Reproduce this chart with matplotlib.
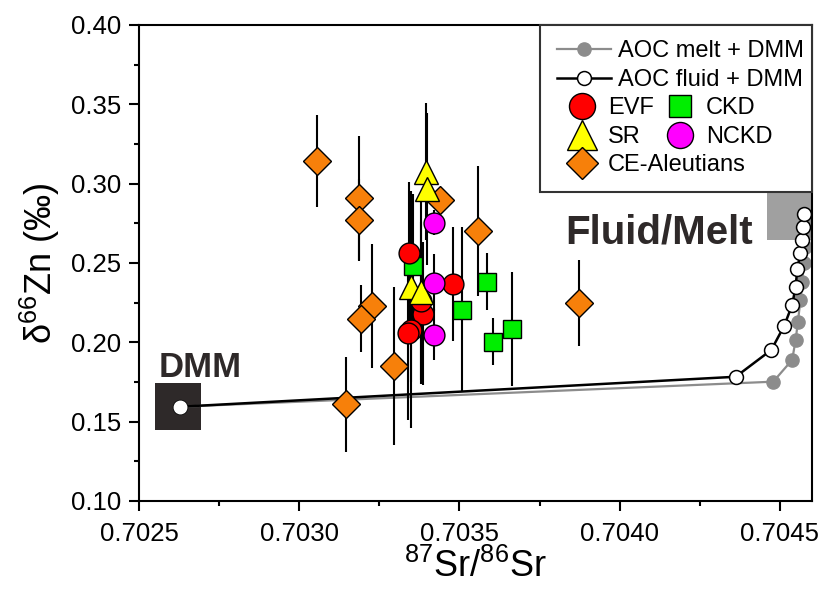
import matplotlib
matplotlib.use('Agg')
import matplotlib.pyplot as plt
from matplotlib.patches import Rectangle

plt.rcParams['font.family'] = ['Liberation Sans', 'DejaVu Sans']
plt.rcParams['mathtext.fontset'] = 'custom'
plt.rcParams['mathtext.rm'] = 'Liberation Sans'
plt.rcParams['mathtext.it'] = 'Liberation Sans:italic'
plt.rcParams['mathtext.bf'] = 'Liberation Sans:bold'

# mixing curves (DMM end-member first)
melt_x = [0.702628, 0.704479, 0.704538, 0.704549, 0.704556, 0.704564, 0.704569, 0.704575, 0.704578, 0.704580, 0.704580]
melt_y = [0.1594, 0.1752, 0.1889, 0.2015, 0.2130, 0.2267, 0.2383, 0.2498, 0.2603, 0.2700, 0.2790]
fluid_x = [0.702628, 0.704362, 0.704473, 0.704513, 0.704538, 0.704549, 0.704554, 0.704564, 0.704569, 0.704572, 0.704575]
fluid_y = [0.1594, 0.1783, 0.1952, 0.2103, 0.2235, 0.2351, 0.2460, 0.2561, 0.2645, 0.2729, 0.2807]

# samples: 87Sr/86Sr, d66Zn, 2SD
evf_x = [0.703342, 0.703479, 0.703386, 0.703350, 0.703338, 0.703381]
evf_y = [0.256, 0.237, 0.218, 0.208, 0.206, 0.226]
evf_e = [0.045, 0.036, 0.045, 0.062, 0.055, 0.050]

sr_x = [0.703394, 0.703400, 0.703350, 0.703381]
sr_y = [0.3076, 0.2965, 0.2351, 0.2315]
sr_e = [0.043, 0.048, 0.060, 0.058]

ckd_x = [0.703355, 0.703586, 0.703508, 0.703604, 0.703663]
ckd_y = [0.2484, 0.2383, 0.2205, 0.2005, 0.2085]
ckd_e = [0.045, 0.018, 0.052, 0.015, 0.036]

nckd_x = [0.703419, 0.703419, 0.703419]
nckd_y = [0.2755, 0.2377, 0.2047]
nckd_e = [0.008, 0.018, 0.016]

ce_x = [0.703055, 0.703185, 0.703188, 0.703228, 0.703194, 0.703297, 0.703145, 0.703438, 0.703558, 0.703874]
ce_y = [0.314, 0.291, 0.277, 0.223, 0.215, 0.185, 0.161, 0.290, 0.270, 0.225]
ce_e = [0.029, 0.039, 0.026, 0.039, 0.021, 0.050, 0.030, 0.005, 0.041, 0.027]

# end-member boxes
dmm_box = (0.70255, 0.1447, 0.000143, 0.0295)
fm_box = (0.70446, 0.2645, 0.00014, 0.0296)

fig = plt.figure(figsize=(8.22, 5.97), dpi=100)
ax = fig.add_axes([139/822, 1-501/597, 673/822, 476/597])

ax.add_patch(Rectangle(dmm_box[:2], dmm_box[2], dmm_box[3], color='#2e2929', zorder=1, lw=0))
ax.add_patch(Rectangle(fm_box[:2], fm_box[2], fm_box[3], color='#a0a0a0', zorder=1, lw=0))

melt_line, = ax.plot(melt_x, melt_y, color='#8c8c8c', lw=1.6, marker='o', ms=9.5,
                     mfc='#8c8c8c', mec='#8c8c8c', zorder=2)
fluid_line, = ax.plot(fluid_x, fluid_y, color='black', lw=1.8, marker='o', ms=10,
                      mfc='white', mec='black', mew=1.1, zorder=2.2)
ax.plot(fluid_x[:1], fluid_y[:1], 'o', ms=9, mfc='white', mec='white', zorder=2.3)

groups = [
    (ce_x, ce_y, ce_e, 'D', 14, '#f7800a', 'CE-Aleutians'),
    (ckd_x, ckd_y, ckd_e, 's', 13, '#00ee00', 'CKD'),
    (evf_x, evf_y, evf_e, 'o', 15, '#ff0000', 'EVF'),
    (sr_x, sr_y, sr_e, '^', 17, '#ffff00', 'SR'),
    (nckd_x, nckd_y, nckd_e, 'o', 15, '#ff00ff', 'NCKD'),
]
handles = {}
for gx, gy, ge, mk, ms, col, lab in groups:
    ax.errorbar(gx, gy, yerr=ge, fmt='none', ecolor='black', elinewidth=1.5, capsize=0, zorder=2.5)
    h, = ax.plot(gx, gy, ls='none', marker=mk, ms=ms, mfc=col, mec='black', mew=1.0, zorder=3, label=lab)
    handles[lab] = h

ax.text(0.70269, 0.1782, 'DMM', fontsize=25, fontweight='bold', color='#2e2929', ha='center', va='baseline')
ax.text(0.704123, 0.2626, 'Fluid/Melt', fontsize=29, fontweight='bold', color='#2e2929', ha='center', va='baseline')

ax.set_xlim(0.7025, 0.70460)
ax.set_ylim(0.10, 0.40)
ax.set_xticks([0.7025, 0.7030, 0.7035, 0.7040, 0.7045])
ax.set_xticklabels(['0.7025', '0.7030', '0.7035', '0.7040', '0.7045'])
ax.set_xticks([0.70275, 0.70325, 0.70375, 0.70425], minor=True)
ax.set_yticks([0.10, 0.15, 0.20, 0.25, 0.30, 0.35, 0.40])
ax.set_yticklabels(['0.10', '0.15', '0.20', '0.25', '0.30', '0.35', '0.40'])
ax.set_yticks([0.125, 0.175, 0.225, 0.275, 0.325, 0.375], minor=True)
ax.tick_params(which='both', direction='out', width=1.5, labelsize=18.5, top=False, right=False)
ax.tick_params(which='major', length=7)
ax.tick_params(which='minor', length=3.6)
ax.tick_params(axis='x', pad=8)
ax.tick_params(axis='y', pad=6)
for sp in ax.spines.values():
    sp.set_linewidth(1.5)

ax.set_xlabel('$^{\\mathregular{87}}$Sr/$^{\\mathregular{86}}$Sr', fontsize=26, labelpad=2)
ax.set_ylabel('δ$^{\\mathregular{66}}$Zn (‰)', fontsize=26, labelpad=6)

# legend: framed box holding three borderless legends
ax.add_patch(Rectangle((0.5958, 0.649), 0.4042, 0.351, transform=ax.transAxes, fill=True,
                       facecolor='white', edgecolor='#333333', lw=1.5, zorder=4, clip_on=False))
leg1 = ax.legend([melt_line, fluid_line], ['AOC melt + DMM', 'AOC fluid + DMM'],
                 loc='upper left', bbox_to_anchor=(0.621, 0.968), frameon=False, fontsize=17,
                 handlelength=2.3, handletextpad=0.3, borderpad=0, borderaxespad=0, labelspacing=0.3)
leg1.set_zorder(5)
ax.add_artist(leg1)
leg2 = ax.legend([handles['EVF'], handles['SR'], handles['CKD'], handles['NCKD']],
                 ['EVF', 'SR', 'CKD', 'NCKD'], ncol=2, loc='upper left',
                 bbox_to_anchor=(0.6374, 0.848), frameon=False, fontsize=17, markerscale=1.25,
                 handlelength=1.2, handletextpad=0.5, columnspacing=0.5, borderpad=0,
                 borderaxespad=0, labelspacing=0.3)
leg2.set_zorder(5)
ax.add_artist(leg2)
leg3 = ax.legend([handles['CE-Aleutians']], ['CE-Aleutians'], loc='upper left',
                 bbox_to_anchor=(0.6374, 0.728), frameon=False, fontsize=17, markerscale=1.2,
                 handlelength=1.2, handletextpad=0.5, borderpad=0, borderaxespad=0)
leg3.set_zorder(5)

fig.savefig('out.png', dpi=100)
